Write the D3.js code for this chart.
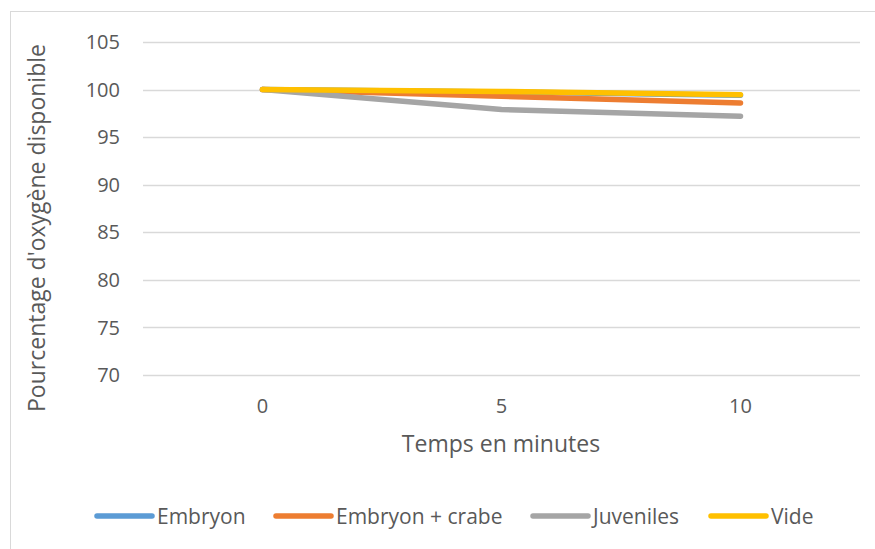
<!DOCTYPE html>
<html><head><meta charset="utf-8">
<script src="https://cdn.jsdelivr.net/npm/d3@7"></script>
<style>
body{margin:0;background:#fff;}
text{font-family:"Open Sans",sans-serif;fill:#595959;}
</style></head>
<body><svg id="c" width="875" height="549"></svg>
<script>
const categories = ["0", "5", "10"];
const seriesNames = ["Embryon", "Embryon + crabe", "Juveniles", "Vide"];
const embryon = [100, 99.75, 99.4];
const embryonCrabe = [100, 99.3, 98.6];
const juveniles = [100, 97.9, 97.2];
const vide = [100, 99.8, 99.45];
const yTicks = [70, 75, 80, 85, 90, 95, 100, 105];
const colors = ["#5B9BD5", "#ED7D31", "#A5A5A5", "#FFC000"];

const series = [embryon, embryonCrabe, juveniles, vide];
const svg = d3.select("#c");
svg.append("rect").attr("x",10.5).attr("y",11.5).attr("width",875).attr("height",549)
  .attr("fill","none").attr("stroke","#d9d9d9");

const x = d3.scaleBand().domain(categories).range([143, 860]);
const y = d3.scaleLinear().domain([70, 105]).range([375, 42]);

svg.append("g").selectAll("line").data(yTicks).join("line")
  .attr("x1",143).attr("x2",860).attr("y1",d=>Math.round(y(d))+0.5).attr("y2",d=>Math.round(y(d))+0.5)
  .attr("stroke","#d9d9d9").attr("stroke-width",1.3);

svg.append("g").selectAll("text").data(yTicks).join("text")
  .attr("x",120).attr("y",d=>y(d)).attr("dy","0.36em").attr("text-anchor","end")
  .style("font-size","20px").text(d=>d);

svg.append("g").selectAll("text").data(categories).join("text")
  .attr("x",d=>x(d)+x.bandwidth()/2).attr("y",406).attr("dy","0.36em").attr("text-anchor","middle")
  .style("font-size","20px").text(d=>d);

svg.append("text").attr("x",501).attr("y",444).attr("dy","0.36em").attr("text-anchor","middle")
  .style("font-size","23px").text("Temps en minutes");
svg.append("text").attr("transform","translate(37,228) rotate(-90)").attr("dy","0.36em")
  .attr("text-anchor","middle").style("font-size","23px").text("Pourcentage d'oxygène disponible");

const line = d3.line().x((d,i)=>x(categories[i])+x.bandwidth()/2).y(d=>y(d));
svg.append("g").selectAll("path").data(series).join("path")
  .attr("d",line).attr("fill","none").attr("stroke",(d,i)=>colors[i])
  .attr("stroke-width",5.5).attr("stroke-linecap","round").attr("stroke-linejoin","round");

const legX = [97, 276, 533, 711];
const lg = svg.append("g").selectAll("g").data(seriesNames).join("g")
  .attr("transform",(d,i)=>`translate(${legX[i]},516)`);
lg.append("line").attr("x1",0).attr("x2",55).attr("stroke",(d,i)=>colors[i])
  .attr("stroke-width",5.5).attr("stroke-linecap","round");
lg.append("text").attr("x",60).attr("dy","0.36em").style("font-size","21px").text(d=>d);
</script></body></html>
